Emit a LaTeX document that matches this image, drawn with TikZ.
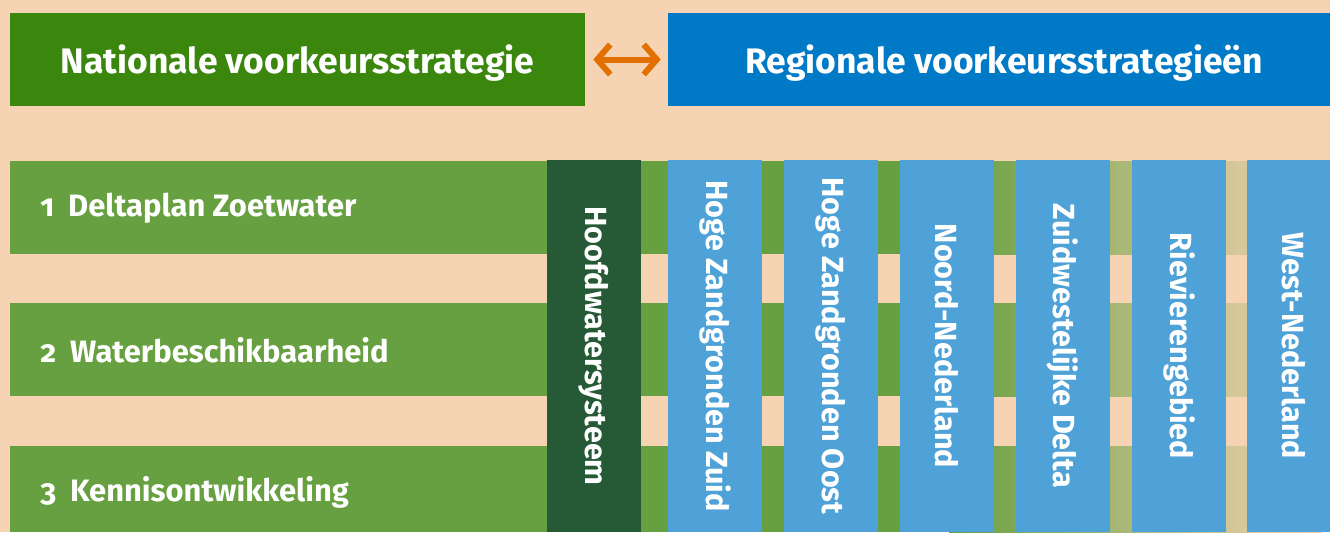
\documentclass[tikz,border=0pt]{standalone}
\usepackage{fontspec}
\setmainfont{Fira Sans}
\usetikzlibrary{arrows.meta}
\definecolor{peach}{HTML}{F5D3B3}
\definecolor{natgreen}{HTML}{3B870E}
\definecolor{regblue}{HTML}{0079C6}
\definecolor{bandgreen}{HTML}{66A040}
\definecolor{darkgreen}{HTML}{265A37}
\definecolor{colblue}{HTML}{4EA2D8}
\definecolor{arroworange}{HTML}{E17000}

\begin{document}
\begin{tikzpicture}[x=0.02cm, y=-0.02cm,
	titlebox/.style={inner sep=0, minimum height=1.86cm, text depth=0pt, text=white, font=\fontsize{20.2}{24}\selectfont\bfseries},
	rowlabel/.style={anchor=west, inner sep=0, text=white, font=\fontsize{17.6}{21}\selectfont\bfseries},
	column/.style={inner sep=0, minimum width=7.44cm, minimum height=1.88cm, text=white, rotate=-90, font=\fontsize{17.4}{20}\selectfont\bfseries}]
		%%%%% START %%%%%
		\fill[peach] (0, 0) rectangle (1330, 532);
		\useasboundingbox (0, 0) rectangle (1330, 532);
		
		% top boxes
		\node[titlebox, fill=natgreen, minimum width=11.5cm] (nat) at (297.5, 59.5) {Nationale voorkeursstrategie};
		\node[titlebox, fill=regblue, minimum width=13.24cm] (reg) at (999, 59.5) {\hspace*{0.2cm}Regionale voorkeursstrategieën};
		\draw[arroworange, line width=1.2mm, {Straight Barb[length=2.6mm, width=6mm]}-{Straight Barb[length=2.6mm, width=6mm]}, shorten <=1.6mm, shorten >=1.4mm] (nat) -- (reg);
		
		% green bands, fading out on the right
		\foreach \y/\h in {161/254, 303/396, 446/532} {
			\fill[bandgreen] (10, \y) rectangle (950, \h);
			\shade[left color=bandgreen, right color=peach] (949, \y) rectangle (1322, \h);
		}
		\node[rowlabel] (zoet) at (40, 208) {\addfontfeatures{Numbers=OldStyle}1\hspace{0.45em}Deltaplan Zoetwater};
		\node[rowlabel] (besch) at (40, 350) {\addfontfeatures{Numbers=OldStyle}2\hspace{0.45em}Waterbeschikbaarheid};
		\node[rowlabel] (kennis) at (40, 492) {\addfontfeatures{Numbers=OldStyle}3\hspace{0.45em}Kennisontwikkeling};
		
		% columns
		\node[column, fill=darkgreen] (hws) at (594, 346) {Hoofdwatersysteem};
		\foreach \x/\name/\txt in {715/hzz/Hoge Zandgronden Zuid, 831/hzo/Hoge Zandgronden Oost, 947/nn/Noord-Nederland, 1063/zwd/Zuidwestelijke Delta, 1179/rg/Rievierengebied, 1294/wn/West-Nederland}
			\node[column, fill=colblue] (\name) at (\x, 346) {\txt};
		%%%%% END %%%%%
	\end{tikzpicture}
\end{document}
